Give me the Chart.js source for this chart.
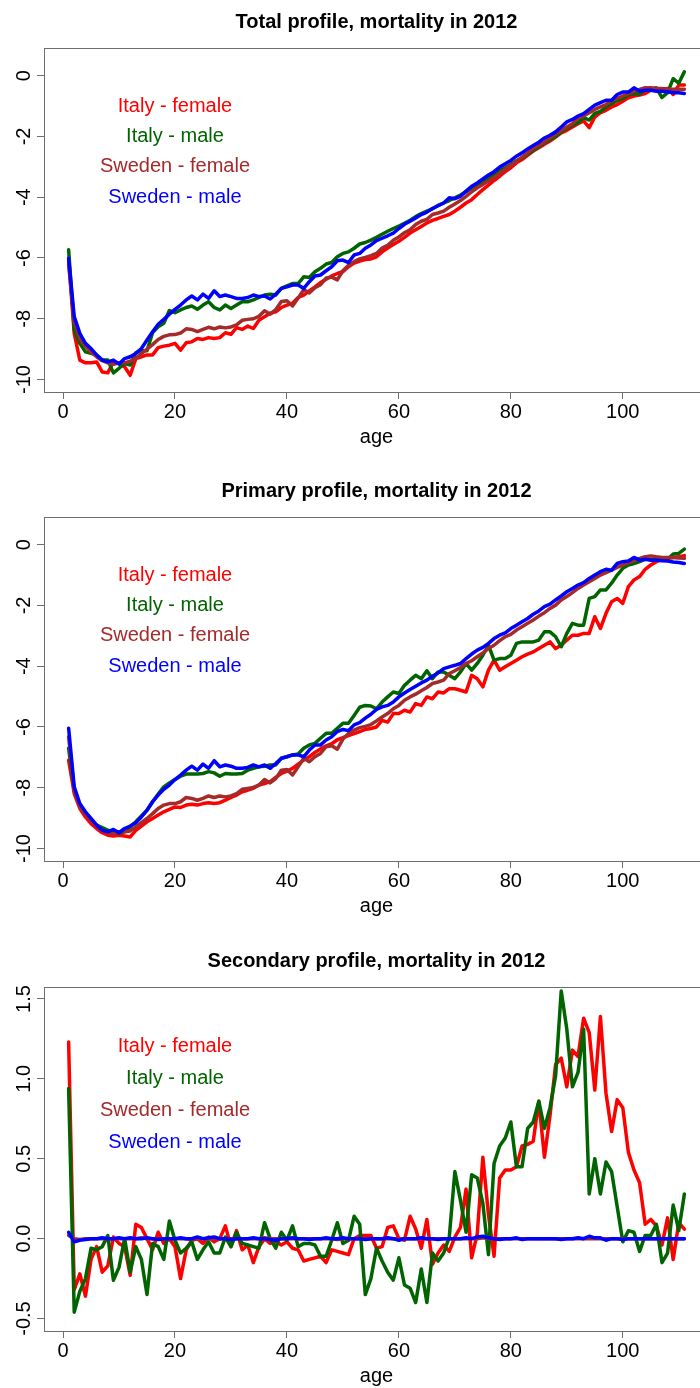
<!DOCTYPE html>
<html>
<head>
<meta charset="utf-8">
<title>Mortality profiles 2012</title>
<script src="https://cdn.jsdelivr.net/npm/chart.js@4.4.1/dist/chart.umd.min.js"></script>
<style>
  html, body { margin: 0; padding: 0; background: #fff; overflow: hidden; }
  #wrap { position: relative; width: 712px; height: 1388px; }
  #wrap canvas { position: absolute; left: 0; }
</style>
</head>
<body>
<div id="wrap">
  <canvas id="totalChart" width="712" height="449" style="top:0px"></canvas>
  <canvas id="primaryChart" width="712" height="449" style="top:469px"></canvas>
  <canvas id="secondaryChart" width="712" height="449" style="top:939px"></canvas>
</div>
<script>
// ages 1..111
var ages = Array.from({ length: 111 }, function (_, i) { return i + 1; });

var seriesNames = ['Italy - female', 'Italy - male', 'Sweden - female', 'Sweden - male'];
var seriesColors = ['#ff0000', '#006400', '#a52a2a', '#0000ff'];

// ---- total profile ----
var totalItalyF = [
  -6.05, -8.48, -9.36, -9.45, -9.45, -9.42, -9.75, -9.78, -9.42, -9.47,
  -9.58, -9.86, -9.31, -9.25, -9.19, -9.19, -8.95, -8.90, -8.87, -8.81,
  -9.03, -8.79, -8.76, -8.65, -8.68, -8.62, -8.65, -8.62, -8.46, -8.51,
  -8.29, -8.35, -8.24, -8.32, -8.05, -7.93, -7.82, -7.77, -7.63, -7.55,
  -7.49, -7.30, -7.22, -7.08, -6.95, -6.81, -6.70, -6.59, -6.51, -6.45,
  -6.29, -6.17, -6.10, -6.05, -6.03, -5.96, -5.80, -5.67, -5.56, -5.45,
  -5.32, -5.18, -5.07, -4.96, -4.85, -4.76, -4.70, -4.63, -4.57, -4.46,
  -4.33, -4.19, -4.08, -3.91, -3.75, -3.60, -3.45, -3.31, -3.16, -3.03,
  -2.87, -2.76, -2.62, -2.48, -2.37, -2.26, -2.15, -2.02, -1.88, -1.80,
  -1.69, -1.58, -1.49, -1.71, -1.36, -1.22, -1.14, -1.03, -0.95, -0.84,
  -0.73, -0.67, -0.64, -0.59, -0.48, -0.45, -0.45, -0.42, -0.62, -0.31, -0.31
];
var totalItalyM = [
  -5.73, -8.37, -8.81, -9.09, -9.14, -9.19, -9.36, -9.36, -9.78, -9.63,
  -9.47, -9.52, -9.12, -9.05, -9.05, -8.45, -8.26, -8.15, -7.73, -7.80,
  -7.71, -7.63, -7.58, -7.69, -7.55, -7.44, -7.63, -7.71, -7.55, -7.66,
  -7.55, -7.44, -7.44, -7.38, -7.30, -7.22, -7.19, -7.22, -7.00, -6.92,
  -6.84, -6.84, -6.62, -6.64, -6.45, -6.34, -6.20, -6.15, -5.96, -5.85,
  -5.80, -5.68, -5.54, -5.49, -5.41, -5.32, -5.22, -5.12, -5.03, -4.95,
  -4.86, -4.76, -4.64, -4.54, -4.46, -4.38, -4.27, -4.19, -4.11, -4.02,
  -3.93, -3.82, -3.70, -3.58, -3.48, -3.37, -3.24, -3.13, -3.03, -2.92,
  -2.80, -2.70, -2.58, -2.46, -2.33, -2.21, -2.10, -2.00, -1.85, -1.73,
  -1.63, -1.55, -1.38, -1.46, -1.24, -1.18, -1.03, -0.92, -0.82, -0.75,
  -0.63, -0.59, -0.60, -0.47, -0.45, -0.40, -0.72, -0.56, -0.10, -0.25, 0.13
];
var totalSwedenF = [
  -6.20, -8.10, -8.65, -8.90, -9.10, -9.25, -9.38, -9.45, -9.50, -9.45,
  -9.45, -9.40, -9.30, -9.15, -9.00, -8.85, -8.68, -8.58, -8.53, -8.52,
  -8.47, -8.33, -8.35, -8.42, -8.35, -8.28, -8.33, -8.27, -8.30, -8.27,
  -8.20, -8.05, -8.02, -8.00, -7.92, -7.74, -7.85, -7.70, -7.43, -7.41,
  -7.58, -7.32, -7.04, -7.15, -6.98, -6.88, -6.66, -6.63, -6.72, -6.42,
  -6.24, -6.12, -6.03, -5.98, -5.92, -5.85, -5.67, -5.58, -5.42, -5.31,
  -5.17, -5.07, -4.90, -4.79, -4.73, -4.57, -4.52, -4.46, -4.33, -4.22,
  -4.11, -3.97, -3.82, -3.69, -3.58, -3.47, -3.36, -3.22, -3.08, -2.95,
  -2.82, -2.68, -2.54, -2.40, -2.29, -2.18, -2.04, -1.93, -1.80, -1.69,
  -1.58, -1.40, -1.33, -1.22, -1.11, -1.03, -0.95, -0.82, -0.75, -0.67,
  -0.59, -0.51, -0.45, -0.40, -0.40, -0.42, -0.42, -0.45, -0.45, -0.45, -0.45
];
var totalSwedenM = [
  -6.01, -7.93, -8.48, -8.81, -8.98, -9.19, -9.36, -9.42, -9.36, -9.49,
  -9.31, -9.25, -9.14, -8.98, -8.70, -8.43, -8.18, -8.02, -7.85, -7.69,
  -7.55, -7.38, -7.25, -7.38, -7.19, -7.33, -7.08, -7.27, -7.22, -7.27,
  -7.33, -7.33, -7.30, -7.22, -7.27, -7.25, -7.35, -7.19, -7.00, -6.95,
  -6.89, -6.89, -7.00, -6.78, -6.59, -6.56, -6.42, -6.29, -6.09, -6.07,
  -6.15, -5.90, -5.85, -5.68, -5.57, -5.43, -5.35, -5.27, -5.18, -5.03,
  -4.89, -4.79, -4.68, -4.57, -4.49, -4.37, -4.28, -4.19, -4.02, -4.05,
  -3.97, -3.80, -3.64, -3.53, -3.40, -3.27, -3.16, -3.01, -2.90, -2.79,
  -2.65, -2.54, -2.41, -2.30, -2.19, -2.05, -1.96, -1.85, -1.69, -1.52,
  -1.44, -1.33, -1.25, -1.11, -0.97, -0.89, -0.81, -0.81, -0.62, -0.54,
  -0.54, -0.40, -0.51, -0.48, -0.48, -0.51, -0.51, -0.53, -0.56, -0.56, -0.59
];

// ---- primary profile ----
var primItalyF = [
  -7.09, -8.19, -8.68, -8.96, -9.18, -9.34, -9.48, -9.56, -9.59, -9.56,
  -9.59, -9.62, -9.40, -9.26, -9.12, -9.01, -8.90, -8.79, -8.71, -8.63,
  -8.65, -8.57, -8.54, -8.57, -8.52, -8.49, -8.52, -8.49, -8.41, -8.32,
  -8.24, -8.13, -8.08, -8.02, -7.91, -7.86, -7.80, -7.66, -7.53, -7.45,
  -7.36, -7.22, -7.09, -6.98, -6.84, -6.72, -6.62, -6.55, -6.42, -6.35,
  -6.28, -6.22, -6.15, -6.08, -6.05, -6.00, -5.78, -5.84, -5.56, -5.56,
  -5.45, -5.51, -5.23, -5.29, -5.01, -5.07, -4.85, -4.88, -4.74, -4.74,
  -4.79, -4.85, -4.30, -4.41, -4.68, -4.13, -3.80, -4.13, -4.02, -3.91,
  -3.80, -3.69, -3.60, -3.53, -3.42, -3.31, -3.20, -3.42, -3.31, -3.14,
  -2.98, -2.98, -2.92, -2.92, -2.37, -2.76, -2.26, -1.88, -1.77, -1.93,
  -1.38, -1.16, -1.05, -0.81, -0.67, -0.56, -0.48, -0.45, -0.42, -0.40, -0.36
];
var primItalyM = [
  -6.70, -8.08, -8.57, -8.85, -9.07, -9.23, -9.31, -9.40, -9.45, -9.50,
  -9.45, -9.29, -9.12, -8.93, -8.74, -8.46, -8.21, -7.97, -7.84, -7.73,
  -7.62, -7.55, -7.55, -7.55, -7.53, -7.47, -7.51, -7.62, -7.53, -7.55,
  -7.55, -7.53, -7.42, -7.36, -7.31, -7.29, -7.25, -7.25, -7.03, -6.98,
  -6.92, -6.89, -6.70, -6.59, -6.54, -6.37, -6.21, -6.21, -6.04, -5.88,
  -5.88, -5.62, -5.35, -5.29, -5.31, -5.40, -5.18, -5.01, -4.85, -4.90,
  -4.63, -4.46, -4.30, -4.41, -4.15, -4.41, -4.19, -4.19, -4.30, -4.41,
  -4.19, -3.91, -4.13, -3.91, -3.64, -3.31, -3.80, -3.75, -3.75, -3.64,
  -3.25, -3.20, -3.20, -3.20, -3.14, -2.87, -2.87, -3.03, -3.36, -2.92,
  -2.59, -2.65, -2.65, -1.77, -1.71, -1.49, -1.49, -1.27, -1.00, -0.78,
  -0.67, -0.62, -0.56, -0.48, -0.48, -0.48, -0.51, -0.48, -0.31, -0.29, -0.15
];
var primSwedenF = [
  -6.32, -8.08, -8.63, -8.87, -9.07, -9.26, -9.40, -9.48, -9.51, -9.45,
  -9.45, -9.42, -9.29, -9.15, -9.01, -8.85, -8.68, -8.57, -8.52, -8.52,
  -8.46, -8.32, -8.35, -8.41, -8.35, -8.27, -8.32, -8.27, -8.30, -8.27,
  -8.19, -8.05, -8.02, -7.99, -7.91, -7.73, -7.84, -7.70, -7.42, -7.40,
  -7.58, -7.31, -7.03, -7.14, -6.98, -6.87, -6.65, -6.62, -6.73, -6.40,
  -6.21, -6.10, -6.02, -5.98, -5.92, -5.80, -5.67, -5.56, -5.40, -5.29,
  -5.12, -5.01, -4.92, -4.81, -4.70, -4.57, -4.52, -4.46, -4.24, -4.15,
  -4.04, -3.91, -3.82, -3.69, -3.56, -3.42, -3.31, -3.16, -3.03, -2.95,
  -2.81, -2.70, -2.59, -2.48, -2.35, -2.24, -2.10, -1.99, -1.82, -1.71,
  -1.58, -1.44, -1.33, -1.22, -1.11, -1.00, -0.92, -0.84, -0.75, -0.67,
  -0.59, -0.53, -0.45, -0.40, -0.37, -0.40, -0.42, -0.42, -0.42, -0.44, -0.45
];
var primSwedenM = [
  -6.04, -7.97, -8.52, -8.79, -9.01, -9.23, -9.40, -9.45, -9.37, -9.48,
  -9.34, -9.26, -9.15, -8.96, -8.74, -8.46, -8.24, -8.05, -7.91, -7.73,
  -7.58, -7.42, -7.29, -7.42, -7.22, -7.36, -7.11, -7.31, -7.25, -7.29,
  -7.36, -7.36, -7.33, -7.25, -7.31, -7.25, -7.36, -7.20, -7.03, -6.98,
  -6.92, -6.92, -6.98, -6.76, -6.59, -6.59, -6.43, -6.32, -6.15, -6.08,
  -6.12, -5.93, -5.86, -5.71, -5.58, -5.42, -5.34, -5.29, -5.18, -5.01,
  -4.88, -4.77, -4.66, -4.55, -4.46, -4.33, -4.22, -4.08, -4.02, -3.97,
  -3.91, -3.75, -3.60, -3.47, -3.38, -3.25, -3.09, -2.98, -2.90, -2.76,
  -2.65, -2.54, -2.43, -2.29, -2.18, -2.04, -1.96, -1.82, -1.69, -1.55,
  -1.44, -1.33, -1.25, -1.11, -1.00, -0.89, -0.81, -0.84, -0.62, -0.56,
  -0.54, -0.42, -0.51, -0.48, -0.51, -0.51, -0.53, -0.54, -0.57, -0.59, -0.62
];

// ---- secondary profile ----
var secItalyF = [
  1.23, -0.32, -0.22, -0.36, -0.13, -0.05, -0.21, -0.17, 0.01, -0.03,
  -0.05, -0.23, 0.09, 0.07, 0.00, -0.07, 0.04, -0.03, 0.00, -0.05,
  -0.25, -0.07, -0.01, 0.00, -0.03, 0.01, -0.02, 0.00, 0.08, -0.05,
  0.05, -0.07, -0.04, -0.15, -0.05, 0.00, -0.03, -0.02, -0.04, -0.02,
  -0.06, -0.07, -0.14, -0.13, -0.12, -0.11, -0.15, -0.07, -0.08, -0.09,
  -0.10, 0.00, 0.02, 0.02, 0.02, -0.06, -0.05, 0.07, 0.08, 0.00,
  -0.01, 0.14, 0.06, -0.06, 0.12, -0.16, -0.09, -0.04, -0.08, 0.01,
  0.07, 0.31, -0.12, 0.03, 0.51, 0.15, -0.11, 0.38, 0.43, 0.43,
  0.45, 0.58, 0.59, 0.61, 0.86, 0.51, 0.77, 1.09, 1.13, 0.95,
  1.18, 1.14, 1.38, 1.29, 0.93, 1.39, 0.91, 0.67, 0.87, 0.82,
  0.54, 0.43, 0.35, 0.09, 0.12, 0.08, -0.04, 0.13, -0.13, 0.10, 0.06
];
var secItalyM = [
  0.94, -0.46, -0.33, -0.25, -0.06, -0.07, -0.05, 0.02, -0.26, -0.18,
  0.00, -0.21, -0.05, -0.13, -0.35, -0.03, -0.05, -0.13, 0.11, -0.01,
  -0.09, -0.06, -0.02, -0.13, -0.07, -0.02, -0.09, -0.09, 0.01, -0.05,
  0.04, -0.03, -0.04, -0.05, -0.06, 0.10, 0.00, -0.06, 0.04, -0.01,
  0.08, -0.05, -0.03, -0.03, -0.04, -0.11, -0.11, -0.01, 0.10, -0.03,
  -0.01, 0.14, 0.09, -0.35, -0.25, -0.06, -0.14, -0.21, -0.26, -0.12,
  -0.29, -0.31, -0.40, -0.19, -0.40, -0.09, -0.14, -0.09, 0.01, 0.42,
  0.24, 0.04, 0.40, 0.38, 0.22, -0.10, 0.47, 0.58, 0.63, 0.73,
  0.45, 0.45, 0.69, 0.73, 0.86, 0.69, 0.82, 1.02, 1.55, 1.31,
  0.95, 1.04, 1.31, 0.28, 0.50, 0.28, 0.48, 0.42, 0.20, -0.02,
  0.05, 0.04, -0.08, 0.02, 0.02, 0.09, -0.15, -0.09, 0.21, 0.05, 0.28
];
var secSwedenF = [
  0.02, 0.00, -0.005, 0.00, 0.00, 0.00, 0.00, 0.00, 0.00, 0.00,
  0.00, 0.00, 0.00, 0.005, 0.00, 0.00, 0.00, 0.00, 0.00, 0.00,
  0.00, 0.00, -0.005, 0.00, 0.00, 0.00, 0.00, 0.00, 0.00, 0.00,
  0.00, 0.00, 0.00, 0.00, 0.00, 0.005, 0.00, 0.00, 0.00, 0.00,
  0.00, 0.00, 0.00, 0.00, 0.00, 0.00, 0.00, 0.00, -0.005, 0.00,
  0.00, 0.00, 0.00, 0.00, 0.00, 0.00, 0.00, 0.00, 0.00, 0.00,
  0.00, 0.00, 0.00, 0.00, 0.00, 0.00, 0.00, 0.00, 0.00, 0.00,
  0.00, 0.00, 0.00, 0.00, 0.005, 0.00, 0.00, 0.00, 0.00, 0.00,
  0.00, 0.00, 0.00, 0.00, 0.00, 0.00, 0.00, 0.00, 0.00, 0.00,
  0.00, 0.00, 0.00, 0.00, 0.00, 0.00, 0.00, 0.00, 0.00, 0.00,
  0.00, 0.00, 0.00, 0.00, 0.00, 0.00, 0.00, 0.00, 0.00, 0.00, 0.00
];
var secSwedenM = [
  0.04, -0.02, -0.01, -0.005, 0.00, 0.00, 0.005, 0.00, 0.00, 0.005,
  0.00, 0.005, 0.00, 0.00, 0.005, 0.00, -0.005, 0.00, 0.00, 0.00,
  0.005, 0.00, 0.00, 0.01, 0.00, 0.005, 0.01, 0.00, 0.00, -0.005,
  0.00, 0.00, 0.00, 0.005, 0.00, 0.00, -0.005, -0.01, 0.00, 0.00,
  0.005, 0.00, 0.00, -0.005, 0.00, 0.00, 0.005, 0.00, 0.00, 0.005,
  0.00, 0.00, 0.00, -0.005, 0.00, 0.00, 0.00, 0.005, 0.00, -0.01,
  0.00, 0.00, 0.00, 0.005, 0.00, 0.00, -0.005, 0.00, 0.00, 0.00,
  0.00, 0.005, 0.00, 0.01, 0.015, 0.005, 0.00, -0.005, 0.00, 0.00,
  0.005, -0.005, 0.00, 0.00, 0.00, 0.00, 0.00, 0.00, -0.005, 0.00,
  0.00, 0.005, 0.00, 0.015, 0.005, 0.005, -0.01, 0.00, 0.00, -0.005,
  0.00, 0.00, 0.00, 0.00, 0.00, 0.00, 0.00, 0.00, 0.00, 0.00, 0.00
];

var FONT = "'Liberation Sans', Arial, Helvetica, sans-serif";
Chart.defaults.font.family = FONT;
Chart.defaults.animation = false;

// box, title, rotated y labels and the text legend, drawn R-style
var profileDecor = {
  id: 'profileDecor',
  afterDraw: function (chart, args, opts) {
    var ctx = chart.ctx;
    var a = chart.chartArea;
    var xs = chart.scales.x;
    var ys = chart.scales.y;
    ctx.save();

    ctx.strokeStyle = '#6e6e6e';
    ctx.lineWidth = 1;
    ctx.strokeRect(a.left + 0.5, a.top + 0.5, a.right - a.left - 1, a.bottom - a.top);

    ctx.fillStyle = '#000';
    ctx.font = 'bold 20px ' + FONT;
    ctx.textAlign = 'center';
    ctx.textBaseline = 'middle';
    ctx.fillText(opts.title, (a.left + a.right) / 2, 22);

    ctx.font = '20px ' + FONT;
    ctx.textBaseline = 'alphabetic';
    ys.ticks.forEach(function (t) {
      var py = ys.getPixelForValue(t.value);
      ctx.save();
      ctx.translate(29.5, py);
      ctx.rotate(-Math.PI / 2);
      ctx.fillText(opts.fmt(t.value), 0, 0);
      ctx.restore();
    });

    ctx.textBaseline = 'middle';
    chart.data.datasets.forEach(function (ds, i) {
      ctx.fillStyle = ds.borderColor;
      ctx.fillText(ds.label, xs.getPixelForValue(opts.keyX), ys.getPixelForValue(opts.keyY[i]));
    });
    ctx.restore();
  }
};

function makeProfile(canvasId, title, values, yMin, yMax, yStep, keyY, fmt) {
  var datasets = values.map(function (vals, i) {
    return {
      label: seriesNames[i],
      data: ages.map(function (a, k) { return { x: a, y: vals[k] }; }),
      borderColor: seriesColors[i],
      borderWidth: 3.5,
      borderJoinStyle: 'round',
      borderCapStyle: 'round',
      pointRadius: 0,
      tension: 0,
      order: values.length - i
    };
  });

  return new Chart(document.getElementById(canvasId), {
    type: 'line',
    data: { datasets: datasets },
    options: {
      responsive: false,
      layout: { padding: { top: 48, right: 3, left: 0, bottom: 0 } },
      plugins: {
        legend: { display: false },
        tooltip: { enabled: false },
        profileDecor: { title: title, keyX: 20, keyY: keyY, fmt: fmt }
      },
      scales: {
        x: {
          type: 'linear',
          min: -3.4,
          max: 115.4,
          afterFit: function (s) { s.height = 57; },
          grid: { drawOnChartArea: false, tickLength: 7, color: '#6e6e6e' },
          border: { display: false },
          ticks: { stepSize: 20, includeBounds: false, padding: 1, color: '#000', font: { size: 20 }, maxRotation: 0 },
          title: { display: true, text: 'age', color: '#000', font: { size: 20 }, padding: { top: 0, bottom: 0 } }
        },
        y: {
          type: 'linear',
          min: yMin,
          max: yMax,
          afterFit: function (s) { s.width = 44; },
          grid: { drawOnChartArea: false, tickLength: 7, color: '#6e6e6e' },
          border: { display: false },
          ticks: { stepSize: yStep, includeBounds: false, display: false }
        }
      }
    },
    plugins: [profileDecor]
  });
}

var intLabel = function (v) { return String(Math.round(v)); };
var decLabel = function (v) { return v.toFixed(1); };

makeProfile('totalChart', 'Total profile, mortality in 2012',
  [totalItalyF, totalItalyM, totalSwedenF, totalSwedenM],
  -10.41, 0.91, 2, [-1, -2, -3, -4], intLabel);

makeProfile('primaryChart', 'Primary profile, mortality in 2012',
  [primItalyF, primItalyM, primSwedenF, primSwedenM],
  -10.41, 0.91, 2, [-1, -2, -3, -4], intLabel);

makeProfile('secondaryChart', 'Secondary profile, mortality in 2012',
  [secItalyF, secItalyM, secSwedenF, secSwedenM],
  -0.578, 1.575, 0.5, [1.2, 1.0, 0.8, 0.6], decLabel);
</script>
</body>
</html>
